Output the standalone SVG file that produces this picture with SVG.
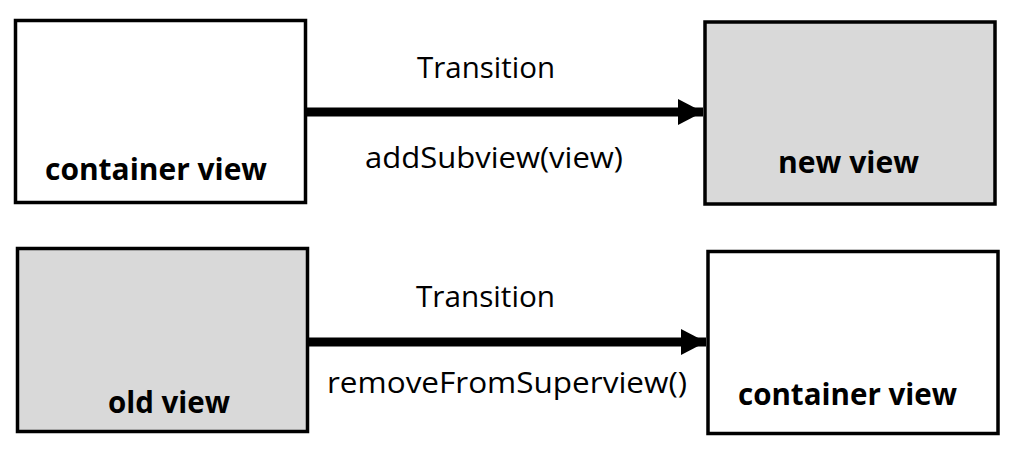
<svg xmlns="http://www.w3.org/2000/svg" width="1016" height="454" viewBox="0 0 1016 454">
<style>
.box{stroke:#000;stroke-width:3.5}
.white{fill:#fff}
.grey{fill:#d9d9d9}
.lbl{font-family:"Open Sans","Liberation Sans",sans-serif;font-weight:bold;font-size:30px;fill:#000}
.edge{font-family:"Open Sans","Liberation Sans",sans-serif;font-size:30px;fill:#000}
.conn{stroke:#000;stroke-width:9;fill:none}
</style>
<defs>
<marker id="ah" markerUnits="userSpaceOnUse" markerWidth="26" markerHeight="26" refX="25" refY="13" orient="auto">
<path d="M0,0 L25,13 L0,26 Z" fill="#000"/>
</marker>
</defs>
<rect width="1016" height="454" fill="#fff"/>
<g id="node-container-top">
<rect class="box white" x="15.5" y="20.5" width="290" height="182"/>
<text class="lbl" x="45" y="180" textLength="222" lengthAdjust="spacingAndGlyphs">container view</text>
</g>
<g id="node-new-view">
<rect class="box grey" x="705" y="22" width="290" height="182"/>
<text class="lbl" x="778" y="173" textLength="141" lengthAdjust="spacingAndGlyphs">new view</text>
</g>
<g id="node-old-view">
<rect class="box grey" x="17.5" y="248.5" width="290" height="183"/>
<text class="lbl" x="108" y="413" textLength="122" lengthAdjust="spacingAndGlyphs">old view</text>
</g>
<g id="node-container-bottom">
<rect class="box white" x="708" y="251.5" width="290" height="182"/>
<text class="lbl" x="738" y="405" textLength="219" lengthAdjust="spacingAndGlyphs">container view</text>
</g>
<g id="connectors">
<line class="conn" x1="307" y1="112" x2="703" y2="112" marker-end="url(#ah)"/>
<text class="edge" x="417" y="78" textLength="138" lengthAdjust="spacingAndGlyphs">Transition</text>
<text class="edge" x="365" y="168" textLength="258" lengthAdjust="spacingAndGlyphs">addSubview(view)</text>
<line class="conn" x1="309" y1="342" x2="706" y2="342" marker-end="url(#ah)"/>
<text class="edge" x="416" y="307" textLength="139" lengthAdjust="spacingAndGlyphs">Transition</text>
<text class="edge" x="327" y="393" textLength="360" lengthAdjust="spacingAndGlyphs">removeFromSuperview()</text>
</g>
</svg>
